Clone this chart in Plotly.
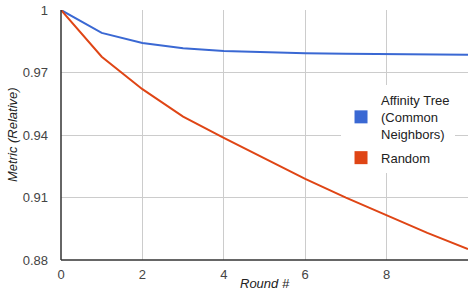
import plotly.graph_objects as go

rounds = [0, 1, 2, 3, 4, 5, 6, 7, 8, 9, 10]
affinity = [1.0, 0.989, 0.9842, 0.9816, 0.9803, 0.9796, 0.9792, 0.979, 0.9789, 0.9787, 0.9785]
random_vals = [1.0, 0.9776, 0.962, 0.9488, 0.9386, 0.9288, 0.9189, 0.9099, 0.9013, 0.893, 0.8853]
names = ["Affinity Tree<br>(Common<br>Neighbors)", "Random"]
colors = ["#3a68d3", "#df4515"]
x_ticks = [0, 2, 4, 6, 8]
y_ticks = [0.88, 0.91, 0.94, 0.97, 1.0]
y_labels = ["0.88", "0.91", "0.94", "0.97", "1"]

fig = go.Figure()
for vals, name, col in zip([affinity, random_vals], names, colors):
    fig.add_trace(go.Scatter(x=rounds, y=vals, mode="lines", line=dict(color=col, width=2),
                             showlegend=False, hoverinfo="skip"))
for i, (name, col) in enumerate(zip(names, colors)):
    fig.add_trace(go.Scatter(x=[None], y=[None], mode="markers", name=name, legendgroup=f"g{i}",
                             marker=dict(symbol="square", size=13, color=col)))

fig.update_layout(
    width=474, height=296,
    margin=dict(l=61, r=6, t=10, b=36),
    paper_bgcolor="white", plot_bgcolor="white",
    font=dict(family="Liberation Sans, Arial, sans-serif", size=13, color="#444"),
    legend=dict(x=0.688, y=0.70, xanchor="left", yanchor="top", bgcolor="white",
                font=dict(size=13, color="#222"), tracegroupgap=4, itemwidth=30),
    xaxis=dict(range=[0, 10], tickvals=x_ticks, showgrid=True, gridcolor="#cccccc",
               zeroline=False, showline=False, ticks="", automargin=False,
               ticklabelstandoff=5),
    yaxis=dict(range=[0.88, 1.0], tickvals=y_ticks, ticktext=y_labels, showgrid=True,
               gridcolor="#cccccc", zeroline=False, showline=False, ticks="", automargin=False,
               ticklabelstandoff=12),
    shapes=[
        dict(type="line", xref="paper", yref="paper", x0=0, x1=0, y0=0, y1=1, line=dict(color="#333", width=1.5)),
        dict(type="line", xref="paper", yref="paper", x0=0, x1=1, y0=0, y1=0, line=dict(color="#333", width=1.5)),
    ],
    annotations=[
        dict(text="<i>Round #</i>", xref="paper", yref="paper", x=0.5, y=0, yshift=-23,
             xanchor="center", yanchor="middle", showarrow=False, font=dict(size=13, color="#222")),
        dict(text="<i>Metric (Relative)</i>", xref="paper", yref="paper", x=0, y=0.5, xshift=-49,
             xanchor="center", yanchor="middle", textangle=-90, showarrow=False,
             font=dict(size=13, color="#222")),
    ],
)
fig.write_html("out.html", config={"displayModeBar": False},
               post_script="document.body.style.margin='0';document.body.style.overflow='hidden';")
